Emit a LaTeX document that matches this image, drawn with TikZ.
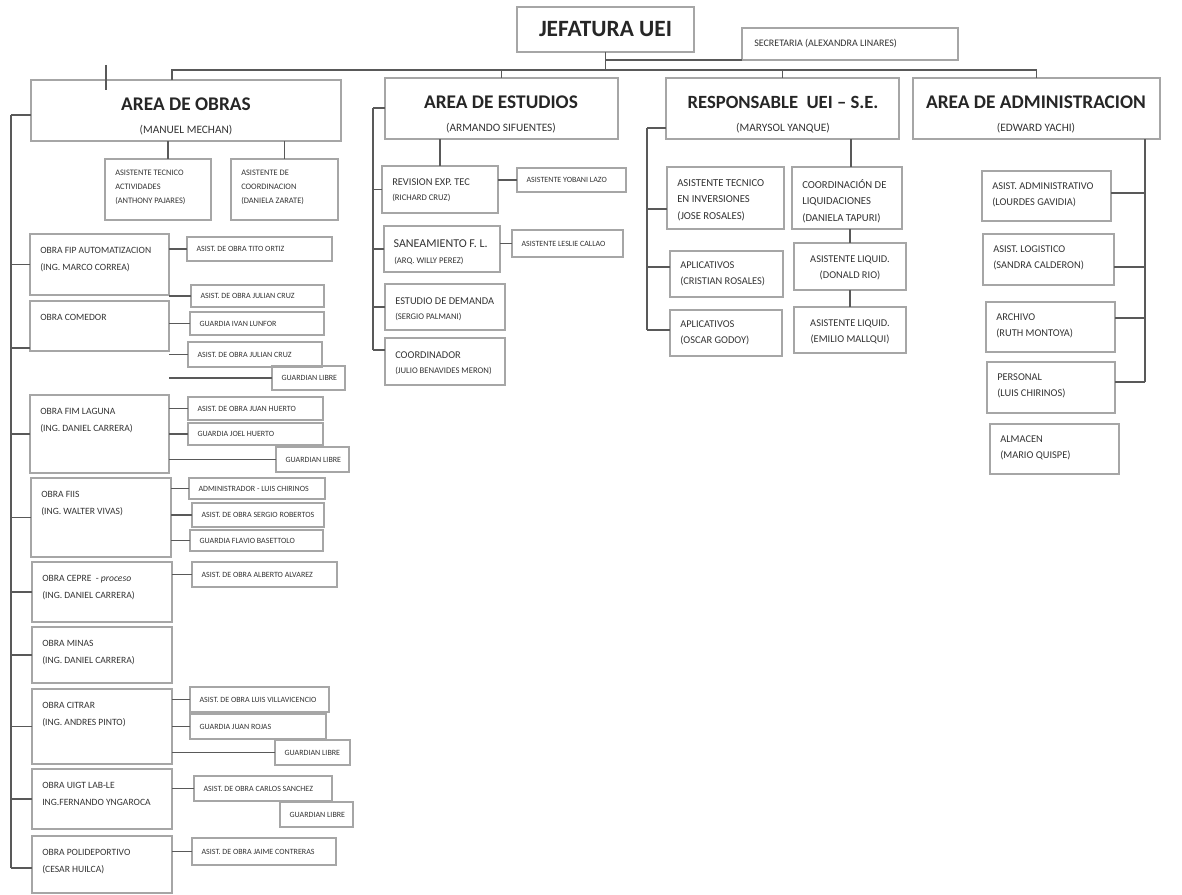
\documentclass[tikz,border=0pt]{standalone}
\usepackage{fontspec}
\setmainfont{Carlito}
\tikzset{
  x=0.75pt, y=-0.75pt,
  box/.style={draw=gray!70, line width=0.9pt, rectangle, inner sep=0pt, outer sep=0pt},
  ln/.style={draw=black!65, line width=1.3pt},
  big/.style={inner sep=0pt, font=\fontsize{14.5}{16}\selectfont\bfseries, text=black!85},
  subt/.style={inner sep=0pt, font=\fontsize{8.5}{10}\selectfont, text=black!80},
  txt/.style={inner sep=0pt, align=left, font=\fontsize{7.2}{12.75}\selectfont, text=black!80},
  txtm/.style={inner sep=0pt, align=left, font=\fontsize{7.8}{12.5}\selectfont, text=black!80},
  txtr/.style={inner sep=0pt, align=left, font=\fontsize{8}{12.4}\selectfont, text=black!80},
  txts/.style={inner sep=0pt, align=left, font=\fontsize{6.3}{10.5}\selectfont, text=black!80},
  tiny/.style={inner sep=0pt, font=\fontsize{6}{7}\selectfont, text=black!80},
  small/.style={inner sep=0pt, font=\fontsize{6.5}{7}\selectfont, text=black!80},
}
\newcommand\bx[5]{\node[box, minimum width={(#4-#2)*0.75pt}, minimum height={(#5-#3)*0.75pt}] (#1) at ({(#2+#4)/2},{(#3+#5)/2}) {};}
\newcommand\bt[8]{\bx{#1}{#2}{#3}{#4}{#5}\node[#6, anchor=north west] (#1-t) at ([xshift=7.5pt,yshift=-#7]#1.north west) {#8};}
\newcommand\bs[6]{\bx{#1}{#2}{#3}{#4}{#5}\node[tiny, anchor=west] (#1-t) at ([xshift=7pt]#1.west) {#6};}
\begin{document}
\begin{tikzpicture}
\useasboundingbox (0,0) rectangle (1182,895);
% top level
\bx{jef}{517}{7}{694}{52}
\node[big, font=\fontsize{17.5}{20}\selectfont\bfseries] (jef-t) at (jef) {JEFATURA UEI};
\bx{sec}{742}{28}{958}{60}
\node[inner sep=0pt, font=\fontsize{7.5}{9}\selectfont, text=black!80, anchor=west] (sec-t) at ([xshift=9pt]sec.west) {SECRETARIA (ALEXANDRA LINARES)};
\bx{obras}{31}{80}{341}{141}
\node[big] (obras-t) at (186,104) {AREA DE OBRAS};
\node[subt] (obras-s) at (186,130) {(MANUEL MECHAN)};
\bx{est}{385}{78}{618}{139}
\node[big] (est-t) at (501,102) {AREA DE ESTUDIOS};
\node[subt] (est-s) at (501,128) {(ARMANDO SIFUENTES)};
\bx{resp}{666}{78}{899}{139}
\node[big, font=\fontsize{14}{16}\selectfont\bfseries] (resp-t) at (783,102) {RESPONSABLE\ \ UEI – S.E.};
\node[subt] (resp-s) at (783,128) {(MARYSOL YANQUE)};
\bx{adm}{913}{78}{1160}{139}
\node[big] (adm-t) at (1036,102) {AREA DE ADMINISTRACION};
\node[subt] (adm-s) at (1036,128) {(EDWARD YACHI)};

\coordinate (barL) at (172,70);
\draw[ln] ([xshift=-10.5pt]obras.north) -- (barL) -- (barL -| adm.north) -- (adm.north);
\draw[ln] (est.north) -- (est.north |- barL);
\draw[ln] (resp.north) -- (resp.north |- barL);
\draw[ln] (jef.south) -- (jef.south |- barL);
\draw[ln] (sec.south west) -- (sec.south west -| jef.south);
\coordinate (s1) at (106,65); \coordinate (s2) at (106,90);
\draw[ln, line width=0.8pt] (s1) -- (s2);

% ===== AREA DE OBRAS =====
\bt{ata}{105}{159}{211}{220}{txts}{8pt}{ASISTENTE TECNICO\\ACTIVIDADES\\(ANTHONY PAJARES)}
\bt{adc}{231}{159}{338}{220}{txts}{8pt}{ASISTENTE DE\\COORDINACION\\(DANIELA ZARATE)}
\draw[ln] ([xshift=7.5pt]ata.north) -- ([xshift=7.5pt]ata.north |- obras.south);
\draw[ln] (adc.north) -- (adc.north |- obras.south);

\bt{fip}{30}{234}{169}{295}{txt}{9.5pt}{OBRA FIP AUTOMATIZACION\\(ING. MARCO CORREA)}
\bs{fipa}{187}{237}{332}{261}{ASIST. DE OBRA TITO ORTIZ}
\bt{com}{30}{301}{169}{351}{txt}{9.5pt}{OBRA COMEDOR}
\bs{coma}{191}{285}{324}{307}{ASIST. DE OBRA JULIAN CRUZ}
\bs{comb}{190}{312}{324}{335}{GUARDIA IVAN LUNFOR}
\bs{comc}{188}{342}{322}{367}{ASIST. DE OBRA JULIAN CRUZ}
\bs{comg}{272}{366}{345}{390}{GUARDIAN LIBRE}
\bt{fim}{30}{395}{169}{473}{txt}{9.5pt}{OBRA FIM LAGUNA\\(ING. DANIEL CARRERA)}
\bs{fima}{188}{397}{323}{420}{ASIST. DE OBRA JUAN HUERTO}
\bs{fimb}{188}{423}{323}{445}{GUARDIA JOEL HUERTO}
\bs{fimg}{276}{447}{349}{472}{GUARDIAN LIBRE}
\bt{fiis}{31}{478}{171}{557}{txt}{9.5pt}{OBRA FIIS\\(ING. WALTER VIVAS)}
\bs{fiisa}{189}{478}{325}{499}{ADMINISTRADOR - LUIS CHIRINOS}
\bs{fiisb}{192}{503}{324}{527}{ASIST. DE OBRA SERGIO ROBERTOS}
\bs{fiisc}{190}{530}{323}{551}{GUARDIA FLAVIO BASETTOLO}
\bt{cep}{32}{562}{172}{622}{txt}{9.5pt}{OBRA CEPRE\ \ - {\itshape proceso}\\(ING. DANIEL CARRERA)}
\bs{cepa}{192}{562}{337}{587}{ASIST. DE OBRA ALBERTO ALVAREZ}
\bt{min}{32}{627}{172}{683}{txt}{9.5pt}{OBRA MINAS\\(ING. DANIEL CARRERA)}
\bt{cit}{32}{689}{172}{764}{txt}{9.5pt}{OBRA CITRAR\\(ING. ANDRES PINTO)}
\bs{cita}{190}{687}{329}{712}{ASIST. DE OBRA LUIS VILLAVICENCIO}
\bs{citb}{190}{714}{326}{739}{GUARDIA JUAN ROJAS}
\bs{citg}{275}{740}{350}{765}{GUARDIAN LIBRE}
\bt{uig}{32}{769}{172}{829}{txt}{9.5pt}{OBRA UIGT LAB-LE\\ING.FERNANDO YNGAROCA}
\bs{uiga}{194}{776}{332}{801}{ASIST. DE OBRA CARLOS SANCHEZ}
\bs{uigg}{280}{802}{353}{827}{GUARDIAN LIBRE}
\bt{pol}{32}{836}{172}{893}{txt}{9.5pt}{OBRA POLIDEPORTIVO\\(CESAR HUILCA)}
\bs{pola}{192}{838}{336}{865}{ASIST. DE OBRA JAIME CONTRERAS}

\coordinate (obT) at (11,115);
\coordinate (obB) at (11,868);
\draw[ln] (obT) -- (obB);
\draw[ln] (obT) -- (obT -| obras.west);
\foreach \o in {fip,fim,fiis,cep,min,cit,uig}
  \draw[ln] (\o.west) -- (\o.west -| obT);
\draw[ln] (obB) -- (obB -| pol.west);
\draw[ln] ([yshift=2.25pt]com.south west) -- ([yshift=2.25pt]com.south west -| obT);
\foreach \s/\p in {fipa/fip,coma/com,comb/com,comc/com,comg/com,fima/fim,fimb/fim,fimg/fim,
  fiisa/fiis,fiisb/fiis,fiisc/fiis,cepa/cep,cita/cit,citb/cit,citg/cit,uiga/uig,pola/pol}
  \draw[ln] (\s.west) -- (\s.west -| \p.east);

% ===== AREA DE ESTUDIOS =====
\bx{rev}{382}{166}{498}{213}
\node[txtm, anchor=north west] (rev-t) at ([xshift=7.5pt,yshift=-9.5pt]rev.north west) {REVISION EXP. TEC};
\node[small, anchor=north west] (rev-s) at ([xshift=7.5pt,yshift=-21pt]rev.north west) {(RICHARD CRUZ)};
\bs{reva}{517}{168}{626}{192}{ASISTENTE YOBANI LAZO}
\bx{san}{384}{226}{500}{272}
\node[inner sep=0pt, font=\fontsize{9}{10}\selectfont, text=black!80, anchor=north west] (san-t) at ([xshift=7pt,yshift=-10pt]san.north west) {SANEAMIENTO F. L.};
\node[small, anchor=north west] (san-s) at ([xshift=7.5pt,yshift=-23pt]san.north west) {(ARQ. WILLY PEREZ)};
\bs{sana}{512}{230}{623}{257}{ASISTENTE LESLIE CALLAO}
\bx{dem}{385}{284}{505}{330}
\node[txtm, anchor=north west] (dem-t) at ([xshift=7.5pt,yshift=-10pt]dem.north west) {ESTUDIO DE DEMANDA};
\node[small, anchor=north west] (dem-s) at ([xshift=7.5pt,yshift=-22pt]dem.north west) {(SERGIO PALMANI)};
\bx{coo}{385}{338}{505}{385}
\node[txtm, anchor=north west] (coo-t) at ([xshift=7.5pt,yshift=-10pt]coo.north west) {COORDINADOR};
\node[small, anchor=north west] (coo-s) at ([xshift=7.5pt,yshift=-22pt]coo.north west) {(JULIO BENAVIDES MERON)};

\coordinate (esT) at (373,108);
\coordinate (esB) at (373,350);
\draw[ln] (esT) -- (esT -| est.west);
\draw[ln] (esT) -- (esB);
\foreach \o in {rev,san,dem} \draw[ln] (\o.west) -- (\o.west -| esT);
\draw[ln] (esB) -- (esB -| coo.west);
\draw[ln] (rev.north) -- (rev.north |- est.south);
\draw[ln] (reva.west) -- (reva.west -| rev.east);
\draw[ln] (sana.west) -- (sana.west -| san.east);

% ===== RESPONSABLE =====
\bt{ati}{667}{167}{784}{229}{txtr}{9pt}{ASISTENTE TECNICO\\EN INVERSIONES\\(JOSE ROSALES)}
\bt{cli}{792}{167}{902}{229}{txtr}{9pt}{COORDINACIÓN DE\\LIQUIDACIONES\\(DANIELA TAPURI)}
\bt{ap1}{670}{251}{783}{297}{txtm}{7.5pt}{APLICATIVOS\\(CRISTIAN ROSALES)}
\bt{ap2}{670}{310}{782}{356}{txtm}{7.5pt}{APLICATIVOS\\(OSCAR GODOY)}
\bx{lq1}{794}{243}{906}{290}
\node[txtm, align=center, anchor=north] (lq1-t) at ([yshift=-9pt]lq1.north) {ASISTENTE LIQUID.\\(DONALD RIO)};
\bx{lq2}{794}{307}{906}{353}
\node[txtm, align=center, anchor=north] (lq2-t) at ([yshift=-9pt]lq2.north) {ASISTENTE LIQUID.\\(EMILIO MALLQUI)};

\coordinate (rsT) at (647,128);
\coordinate (rsB) at (647,330);
\draw[ln] (rsT) -- (rsT -| resp.west);
\draw[ln] (rsT) -- (rsB);
\draw[ln] ([yshift=-8pt]ati.west) -- ([yshift=-8pt]ati.west -| rsT);
\draw[ln] ([yshift=5pt]ap1.west) -- ([yshift=5pt]ap1.west -| rsT);
\draw[ln] (rsB) -- (rsB -| ap2.west);
\draw[ln] ([xshift=3pt]cli.north) -- ([xshift=3pt]cli.north |- resp.south);
\draw[ln] (lq1.north) -- (lq1.north |- cli.south);
\draw[ln] (lq2.north) -- (lq2.north |- lq1.south);

% ===== ADMINISTRACION =====
\bt{aa}{982}{171}{1111}{221}{txtm}{8.25pt}{ASIST. ADMINISTRATIVO\\(LOURDES GAVIDIA)}
\bt{al}{983}{234}{1114}{285}{txtm}{8.25pt}{ASIST. LOGISTICO\\(SANDRA CALDERON)}
\bt{ar}{986}{302}{1115}{352}{txtm}{8.25pt}{ARCHIVO\\(RUTH MONTOYA)}
\bt{pe}{987}{362}{1115}{413}{txtm}{8.25pt}{PERSONAL\\(LUIS CHIRINOS)}
\bt{alm}{990}{424}{1119}{474}{txtm}{8.25pt}{ALMACEN\\(MARIO QUISPE)}

\coordinate (adB) at (1145,382);
\draw[ln] (adB) -- (adB |- adm.south);
\draw[ln] ([yshift=2pt]aa.east) -- ([yshift=2pt]aa.east -| adB);
\draw[ln] ([yshift=-5.5pt]al.east) -- ([yshift=-5.5pt]al.east -| adB);
\draw[ln] ([yshift=6.75pt]ar.east) -- ([yshift=6.75pt]ar.east -| adB);
\draw[ln] (adB) -- (adB -| pe.east);
\end{tikzpicture}
\end{document}
